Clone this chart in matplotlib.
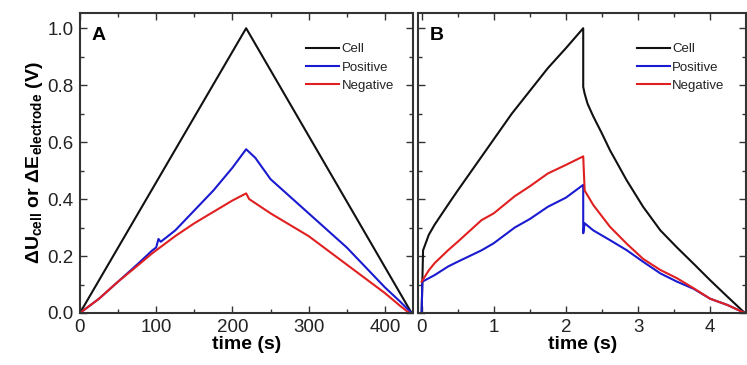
import matplotlib
matplotlib.use("Agg")
import matplotlib.pyplot as plt
from matplotlib.ticker import MultipleLocator, FormatStrFormatter

plt.rcParams["font.family"] = ["Liberation Sans", "DejaVu Sans"]
plt.rcParams["mathtext.fontset"] = "custom"
plt.rcParams["mathtext.rm"] = "Liberation Sans"
plt.rcParams["mathtext.bf"] = "Liberation Sans:bold"
plt.rcParams["mathtext.it"] = "Liberation Sans:italic"

# panel A: slow galvanostatic cycle
t_a_cell = [0, 218, 435]
u_a_cell = [0.0, 1.0, 0.0]
t_a_pos = [0, 25, 50, 75, 95, 100, 103, 106, 125, 150, 175, 200, 218,
           230, 250, 275, 300, 325, 350, 375, 400, 420, 435]
e_a_pos = [0.0, 0.05, 0.11, 0.17, 0.22, 0.23, 0.26, 0.25, 0.29, 0.36, 0.43, 0.51, 0.575,
           0.545, 0.47, 0.41, 0.35, 0.29, 0.23, 0.16, 0.09, 0.04, 0.0]
t_a_neg = [0, 25, 50, 75, 95, 100, 125, 150, 175, 200, 218,
           222, 250, 275, 300, 325, 350, 375, 400, 420, 432, 435]
e_a_neg = [0.0, 0.05, 0.11, 0.165, 0.21, 0.22, 0.27, 0.315, 0.355, 0.395, 0.42,
           0.40, 0.35, 0.31, 0.27, 0.22, 0.17, 0.12, 0.07, 0.025, 0.0, 0.0]

# panel B: fast cycle
t_b_cell = [0, 0.02, 0.1, 0.18, 0.365, 0.5, 0.75, 1.0, 1.25, 1.5, 1.75, 2.0, 2.24,
            2.24, 2.26, 2.3, 2.38, 2.5, 2.61, 2.84, 3.07, 3.31, 3.54, 3.77, 4.0, 4.24, 4.48]
u_b_cell = [0.0, 0.22, 0.275, 0.31, 0.38, 0.43, 0.52, 0.61, 0.70, 0.78, 0.86, 0.93, 1.0,
            0.794, 0.77, 0.735, 0.69, 0.63, 0.572, 0.467, 0.373, 0.29, 0.23, 0.173, 0.115, 0.057, 0.0]
t_b_pos = [0, 0.01, 0.18, 0.365, 0.5, 0.83, 1.0, 1.29, 1.5, 1.75, 2.0, 2.24,
           2.24, 2.26, 2.38, 2.61, 2.84, 3.07, 3.31, 3.54, 3.77, 4.0, 4.24, 4.48]
e_b_pos = [0.0, 0.11, 0.133, 0.163, 0.18, 0.22, 0.245, 0.30, 0.33, 0.373, 0.405, 0.45,
           0.28, 0.315, 0.29, 0.256, 0.221, 0.18, 0.139, 0.11, 0.085, 0.05, 0.028, 0.0]
t_b_neg = [0, 0.1, 0.18, 0.365, 0.5, 0.83, 1.0, 1.29, 1.5, 1.75, 2.0, 2.24,
           2.26, 2.38, 2.61, 2.84, 3.07, 3.31, 3.54, 3.77, 4.0, 4.24, 4.48]
e_b_neg = [0.11, 0.15, 0.175, 0.22, 0.25, 0.326, 0.35, 0.41, 0.445, 0.49, 0.52, 0.55,
           0.43, 0.379, 0.303, 0.244, 0.19, 0.151, 0.122, 0.087, 0.05, 0.028, 0.0]

labels = ["Cell", "Positive", "Negative"]
colors = ["#111111", "#1a1ad0", "#e02020"]
spine_col = "#333333"

fig = plt.figure(figsize=(7.47, 3.65), dpi=100)
ax_a = fig.add_axes([0.107, 0.1425, 0.446, 0.8215])
ax_b = fig.add_axes([0.5596, 0.1425, 0.4394, 0.8215])

panels = [
    (ax_a, "A", 0.68, [(t_a_cell, u_a_cell), (t_a_pos, e_a_pos), (t_a_neg, e_a_neg)]),
    (ax_b, "B", 0.667, [(t_b_cell, u_b_cell), (t_b_pos, e_b_pos), (t_b_neg, e_b_neg)]),
]

for ax, tag, leg_x, series in panels:
    for (t, v), lab, c in zip(series, labels, colors):
        ax.plot(t, v, color=c, lw=1.5, label=lab)
    ax.set_ylim(0, 1.053)
    ax.yaxis.set_major_locator(MultipleLocator(0.2))
    ax.yaxis.set_minor_locator(MultipleLocator(0.1))
    ax.tick_params(which="both", direction="in", top=True, right=True,
                   colors=spine_col, labelcolor="#222222", labelsize=13.5,
                   width=1.0, pad=4.5)
    ax.tick_params(which="major", length=5)
    ax.tick_params(which="minor", length=3)
    for s in ax.spines.values():
        s.set_color(spine_col)
        s.set_linewidth(1.5)
    ax.set_xlabel("time (s)", fontsize=14, fontweight="bold", labelpad=0)
    ax.text(0.035, 0.955, tag, transform=ax.transAxes, fontsize=14,
            fontweight="bold", va="top", ha="left")
    leg = ax.legend(loc="upper left", frameon=False, fontsize=9.5,
                    handlelength=2.5, handletextpad=0.15, labelspacing=0.45,
                    borderpad=0, borderaxespad=0,
                    bbox_to_anchor=(leg_x, 0.9))
    for txt in leg.get_texts():
        txt.set_color("#222222")

ax_a.set_xlim(0, 437)
ax_a.xaxis.set_major_locator(MultipleLocator(100))
ax_a.xaxis.set_minor_locator(MultipleLocator(50))
ax_a.yaxis.set_major_formatter(FormatStrFormatter("%.1f"))
ax_a.set_ylabel(r"ΔU$_{\mathbf{cell}}$ or ΔE$_{\mathbf{electrode}}$ (V)",
                fontsize=14, fontweight="bold", labelpad=2)

ax_b.set_xlim(-0.05, 4.5)
ax_b.xaxis.set_major_locator(MultipleLocator(1))
ax_b.xaxis.set_minor_locator(MultipleLocator(0.5))
ax_b.tick_params(labelleft=False)

fig.savefig("out.png", dpi=100)
